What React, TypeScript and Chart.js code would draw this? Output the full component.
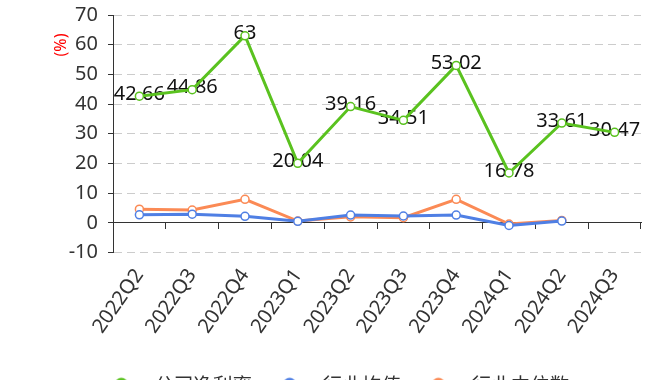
import React, { useEffect, useRef } from "react";
import { Chart, registerables } from "chart.js";

Chart.register(...registerables);

const categories = ["2022Q2", "2022Q3", "2022Q4", "2023Q1", "2023Q2", "2023Q3", "2023Q4", "2024Q1", "2024Q2", "2024Q3"];
const companyNetMargin = [42.66, 44.86, 63, 20.04, 39.16, 34.51, 53.02, 16.78, 33.61, 30.47];
const industryMean = [2.7, 2.9, 2.2, 0.5, 2.6, 2.3, 2.6, -0.9, 0.6, null];
const industryMedian = [4.6, 4.3, 7.9, 0.6, 2.0, 1.7, 7.9, -0.4, 0.8, null];
const seriesNames = ["公司净利率", "行业均值", "行业中位数"];
const yTicks = [-10, 0, 10, 20, 30, 40, 50, 60, 70];
const yTitle = "(%)";

const GREEN = "#5ac21f";
const BLUE = "#4f7fe4";
const ORANGE = "#fb8a55";

function makeIcon(color: string): HTMLCanvasElement {
  const c = document.createElement("canvas");
  c.width = 30;
  c.height = 16;
  const g = c.getContext("2d")!;
  g.strokeStyle = color;
  g.lineWidth = 2;
  g.beginPath();
  g.moveTo(0, 8);
  g.lineTo(30, 8);
  g.stroke();
  g.beginPath();
  g.arc(15, 8, 6.5, 0, Math.PI * 2);
  g.fillStyle = color;
  g.fill();
  return c;
}

export default function App() {
  const ref = useRef<HTMLCanvasElement | null>(null);

  useEffect(() => {
    document.body.style.margin = "0";
    document.body.style.overflow = "hidden";
    Chart.defaults.font.family = "'Noto Sans', 'Noto Sans CJK SC', sans-serif";
    const icons = [makeIcon(GREEN), makeIcon(BLUE), makeIcon(ORANGE)];

    const labelPlugin = {
      id: "valueLabels",
      beforeDatasetsDraw(chart: any) {
        const ctx = chart.ctx;
        const meta = chart.getDatasetMeta(0);
        ctx.save();
        ctx.font = "20px 'Noto Sans', sans-serif";
        ctx.fillStyle = "#111111";
        ctx.textAlign = "center";
        ctx.textBaseline = "middle";
        meta.data.forEach((pt: any, i: number) => {
          const v = companyNetMargin[i];
          if (v == null) return;
          ctx.fillText(String(v), pt.x, pt.y - 2);
        });
        ctx.restore();
      },
    };

    const titlePlugin = {
      id: "yTitle",
      afterDraw(chart: any) {
        const ctx = chart.ctx;
        const area = chart.chartArea;
        ctx.save();
        ctx.translate(area.left - 52, area.top + 30);
        ctx.rotate(-Math.PI / 2);
        ctx.font = "16px 'Noto Sans', sans-serif";
        ctx.fillStyle = "#ff0000";
        ctx.textAlign = "center";
        ctx.textBaseline = "middle";
        ctx.fillText(yTitle, 0, 0);
        ctx.restore();
      },
    };

    const mk = (label: string, data: (number | null)[], color: string) => ({
      label,
      data,
      xAxisID: "x",
      yAxisID: "y",
      borderColor: color,
      backgroundColor: color,
      borderWidth: 3,
      pointRadius: 4,
      pointBorderWidth: 1.5,
      pointBackgroundColor: "#ffffff",
      pointBorderColor: color,
      tension: 0,
      spanGaps: false,
    });

    const chart = new Chart(ref.current!, {
      type: "line",
      data: {
        labels: categories,
        datasets: [
          mk(seriesNames[0], companyNetMargin, GREEN),
          mk(seriesNames[1], industryMean, BLUE),
          mk(seriesNames[2], industryMedian, ORANGE),
        ],
      },
      options: {
        responsive: false,
        animation: false,
        layout: { padding: { left: 0, right: 0, top: 15, bottom: 0 } },
        plugins: {
          tooltip: { enabled: false },
          legend: {
            position: "bottom",
            labels: {
              usePointStyle: true,
              pointStyleWidth: 47,
              padding: 14,
              color: "#333333",
              font: { size: 19.5, family: "'Noto Sans CJK SC', sans-serif" },
              generateLabels: (c: any) => {
                const items = Chart.defaults.plugins.legend.labels.generateLabels(c);
                return items.map((it: any, i: number) => ({ ...it, pointStyle: icons[i] }));
              },
            },
          },
        },
        scales: {
          x: {
            type: "category",
            position: "bottom",
            offset: true,
            grid: { display: false, drawTicks: false },
            border: { display: false },
            ticks: {
              autoSkip: false,
              minRotation: 55,
              maxRotation: 55,
              padding: 12,
              color: "#333333",
              font: { size: 20 },
            },
            afterFit: (s: any) => {
              s.height = 108;
              s.paddingRight = 26;
              s.paddingLeft = 0;
              s.paddingTop = 0;
              s.paddingBottom = 0;
            },
          },
          x2: {
            type: "category",
            axis: "x",
            position: { y: 0 },
            offset: true,
            grid: { drawOnChartArea: false, drawTicks: true, tickLength: 6, color: "#333333", offset: true },
            border: { display: true, color: "#333333", width: 1 },
            ticks: { display: false },
            afterFit: (s: any) => {
              s.paddingRight = 0;
              s.paddingLeft = 0;
              s.paddingTop = 0;
              s.paddingBottom = 0;
            },
          },
          y: {
            type: "linear",
            position: "left",
            min: -10,
            max: 70,
            afterBuildTicks: (s: any) => {
              s.ticks = yTicks.map((v) => ({ value: v }));
            },
            grid: { color: "#cccccc", tickColor: "#333333", tickLength: 5, lineWidth: 1 },
            border: { display: true, color: "#333333", width: 1, dash: [8, 5] },
            ticks: { padding: 10, color: "#333333", font: { size: 20 } },
            afterFit: (s: any) => {
              s.width = 113;
              s.paddingTop = 0;
              s.paddingBottom = 0;
            },
          },
        },
      },
      plugins: [labelPlugin, titlePlugin],
    } as any);
    return () => chart.destroy();
  }, []);

  return (
    <div style={{ width: 667, height: 404 }}>
      <canvas ref={ref} width={667} height={404} style={{ display: "block" }} />
    </div>
  );
}
